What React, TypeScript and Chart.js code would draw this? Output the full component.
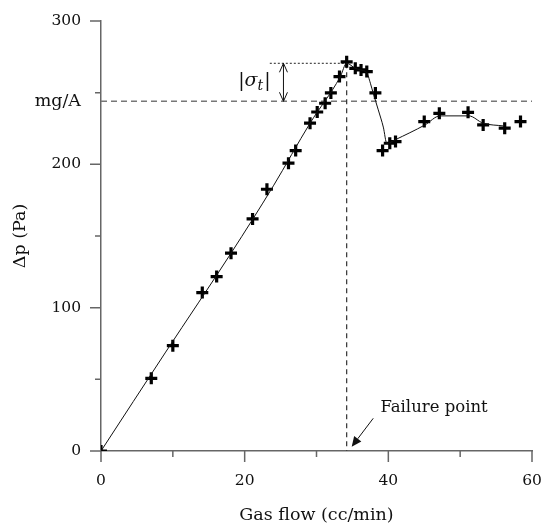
import React, { useEffect, useRef } from 'react';
import { Chart, registerables } from 'chart.js';

Chart.register(...registerables);

// Measured points (Gas flow cc/min, Δp Pa)
const flow = [0, 7, 10, 14.1, 16.1, 18.1, 21.1, 23.1, 26.1, 27.1, 29.1, 30.1, 31.2, 32.0, 33.2, 34.2, 35.4, 36.2, 37.0, 38.2, 39.2, 40.2, 41.0, 45.0, 47.1, 51.1, 53.2, 56.2, 58.4];
const pressure = [0, 50.7, 73.5, 110.5, 121.7, 138, 161.9, 182.6, 200.8, 209.6, 228.7, 236.5, 242.6, 249.8, 261.2, 271.5, 267, 265.9, 264.7, 249.8, 209.6, 214.7, 215.9, 229.8, 235.6, 236.3, 227.5, 225.2, 229.8];

// Fitted curve through the data
const fitFlow = [0, 9, 18.1, 24, 29.1, 33.3, 34.2, 35.4, 36.1, 37.0, 37.5, 37.9, 38.6, 39.3, 39.8, 40.9, 45.1, 47.2, 51.2, 53.2, 56.0];
const fitPressure = [0, 69, 138, 185, 228.7, 261, 270.5, 267, 265.9, 264, 256.6, 249.6, 238, 226, 214.5, 217, 227.5, 233.8, 233.8, 228.7, 226.8];

// Axis ticks
const xMajorTicks = [0, 20, 40, 60];
const xMinorTicks = [10, 30, 50];
const yMajorTicks = [0, 100, 200, 300];
const yMinorTicks = [50, 150, 250];
const mgA = 244;
const yLabelTicks = [0, 100, 200, mgA, 300];

// Annotation anchors (data units)
const failureFlow = 34.2;
const peakPressure = 270.5;
const sigmaArrowFlow = 25.4;
const dottedStartFlow = 23.5;
const failureLabel = { x: 38.9, y: 27.5 };
const failureArrow = { x1: 37.9, y1: 22.8, x2: 34.9, y2: 3.0 };
const sigmaLabel = { xRight: 23.6, y: 259 };

const AXIS = '#666';
const FONT = "'DejaVu Serif', serif";

const annotations = {
  id: 'annotations',
  beforeDatasetsDraw(chart: any) {
    const { ctx, scales } = chart;
    const X = (v: number) => scales.x.getPixelForValue(v);
    const Y = (v: number) => scales.y.getPixelForValue(v);
    ctx.save();
    ctx.strokeStyle = '#777';
    ctx.lineWidth = 1.5;
    ctx.setLineDash([6, 4]);
    ctx.beginPath();
    ctx.moveTo(X(0), Y(mgA));
    ctx.lineTo(X(60), Y(mgA));
    ctx.stroke();
    ctx.strokeStyle = '#333';
    ctx.lineWidth = 1.2;
    ctx.setLineDash([5, 4]);
    ctx.beginPath();
    ctx.moveTo(X(failureFlow), Y(peakPressure));
    ctx.lineTo(X(failureFlow), Y(0));
    ctx.stroke();
    ctx.strokeStyle = '#222';
    ctx.lineWidth = 1;
    ctx.setLineDash([2, 2]);
    ctx.beginPath();
    ctx.moveTo(X(dottedStartFlow), Y(peakPressure));
    ctx.lineTo(X(failureFlow), Y(peakPressure));
    ctx.stroke();
    ctx.restore();
  },
  afterDraw(chart: any) {
    const { ctx, scales } = chart;
    const X = (v: number) => scales.x.getPixelForValue(v);
    const Y = (v: number) => scales.y.getPixelForValue(v);
    ctx.save();
    ctx.strokeStyle = AXIS;
    ctx.lineWidth = 1.5;
    ctx.setLineDash([]);
    const x0 = X(0);
    const y0 = Y(0);
    ctx.beginPath();
    xMajorTicks.forEach((v) => { ctx.moveTo(X(v), y0); ctx.lineTo(X(v), y0 + 11); });
    xMinorTicks.forEach((v) => { ctx.moveTo(X(v), y0); ctx.lineTo(X(v), y0 + 6); });
    yMajorTicks.forEach((v) => { ctx.moveTo(x0, Y(v)); ctx.lineTo(x0 - 11, Y(v)); });
    yMinorTicks.forEach((v) => { ctx.moveTo(x0, Y(v)); ctx.lineTo(x0 - 6, Y(v)); });
    ctx.stroke();

    ctx.strokeStyle = '#111';
    ctx.lineWidth = 1;
    const ax = X(sigmaArrowFlow);
    const at = Y(peakPressure);
    const ab = Y(mgA);
    ctx.beginPath();
    ctx.moveTo(ax, at); ctx.lineTo(ax, ab);
    ctx.moveTo(ax - 4, at + 9); ctx.lineTo(ax, at); ctx.lineTo(ax + 4, at + 9);
    ctx.moveTo(ax - 4, ab - 9); ctx.lineTo(ax, ab); ctx.lineTo(ax + 4, ab - 9);
    ctx.stroke();

    ctx.fillStyle = '#111';
    ctx.textBaseline = 'alphabetic';
    const big = `19px ${FONT}`;
    const ital = `italic 19px ${FONT}`;
    const sub = `italic 14px ${FONT}`;
    ctx.font = big; const wBar = ctx.measureText('|').width;
    ctx.font = ital; const wSig = ctx.measureText('σ').width;
    ctx.font = sub; const wT = ctx.measureText('t').width;
    const total = wBar * 2 + wSig + wT + 1;
    let sx = X(sigmaLabel.xRight) - total;
    const sy = Y(sigmaLabel.y) + 6;
    ctx.font = big; ctx.fillText('|', sx, sy); sx += wBar;
    ctx.font = ital; ctx.fillText('σ', sx, sy); sx += wSig;
    ctx.font = sub; ctx.fillText('t', sx, sy + 4); sx += wT + 1;
    ctx.font = big; ctx.fillText('|', sx, sy);

    ctx.font = `16.5px ${FONT}`;
    ctx.textAlign = 'left';
    ctx.fillText('Failure point', X(failureLabel.x), Y(failureLabel.y));
    const fx1 = X(failureArrow.x1), fy1 = Y(failureArrow.y1);
    const fx2 = X(failureArrow.x2), fy2 = Y(failureArrow.y2);
    const ang = Math.atan2(fy2 - fy1, fx2 - fx1);
    const hl = 10, hw = 4.5;
    const bx = fx2 - Math.cos(ang) * hl, by = fy2 - Math.sin(ang) * hl;
    ctx.beginPath();
    ctx.moveTo(fx1, fy1); ctx.lineTo(bx, by);
    ctx.stroke();
    ctx.beginPath();
    ctx.moveTo(fx2, fy2);
    ctx.lineTo(bx + Math.sin(ang) * hw, by - Math.cos(ang) * hw);
    ctx.lineTo(bx - Math.sin(ang) * hw, by + Math.cos(ang) * hw);
    ctx.closePath();
    ctx.fill();
    ctx.restore();
  },
};

export default function App() {
  const ref = useRef<HTMLCanvasElement>(null);
  useEffect(() => {
    if (!ref.current) return;
    const chart = new Chart(ref.current, {
      type: 'scatter',
      data: {
        datasets: [
          {
            type: 'line',
            data: fitFlow.map((x, i) => ({ x, y: fitPressure[i] })),
            borderColor: '#111',
            borderWidth: 1,
            pointRadius: 0,
            cubicInterpolationMode: 'monotone',
            fill: false,
          } as any,
          {
            data: flow.map((x, i) => ({ x, y: pressure[i] })),
            pointStyle: 'cross',
            pointRadius: 6,
            borderWidth: 3.2,
            borderColor: '#000',
            backgroundColor: '#000',
          },
        ],
      },
      plugins: [annotations],
      options: {
        animation: false,
        responsive: true,
        maintainAspectRatio: false,
        layout: { padding: { left: 0, top: 21, right: 10, bottom: 0 } },
        plugins: { legend: { display: false }, tooltip: { enabled: false } },
        scales: {
          x: {
            type: 'linear',
            min: 0,
            max: 60,
            afterBuildTicks: (s: any) => { s.ticks = xMajorTicks.map((v) => ({ value: v })); },
            afterFit: (s: any) => { s.height = 75; },
            grid: { display: false, drawTicks: true, tickLength: 21 },
            border: { display: true, color: AXIS, width: 1.5 },
            ticks: { autoSkip: false, maxRotation: 0, padding: 0, color: '#111', font: { family: FONT, size: 15.5 } },
            title: { display: true, text: 'Gas flow (cc/min)', color: '#111', padding: { top: 0, bottom: 0 }, font: { family: FONT, size: 17.5 } },
          },
          y: {
            type: 'linear',
            min: 0,
            max: 300,
            afterBuildTicks: (s: any) => { s.ticks = yLabelTicks.map((v) => ({ value: v })); },
            afterFit: (s: any) => { s.width = 101; },
            grid: { display: false, drawTicks: true, tickLength: 20 },
            border: { display: true, color: AXIS, width: 1.5 },
            ticks: {
              autoSkip: false,
              padding: 0,
              color: '#111',
              callback: (v: any) => (v === mgA ? 'mg/A' : String(v)),
              font: (c: any) => ({ family: FONT, size: c.tick && c.tick.value === mgA ? 17.5 : 15.5 }),
            },
            title: { display: true, text: 'Δp (Pa)', color: '#111', padding: { top: 9.5, bottom: 0 }, font: { family: FONT, size: 17.5 } },
          },
        },
      } as any,
    });
    return () => chart.destroy();
  }, []);
  return (
    <div style={{ position: 'absolute', left: 0, top: 0, width: 542, height: 526 }}>
      <canvas ref={ref} />
    </div>
  );
}
